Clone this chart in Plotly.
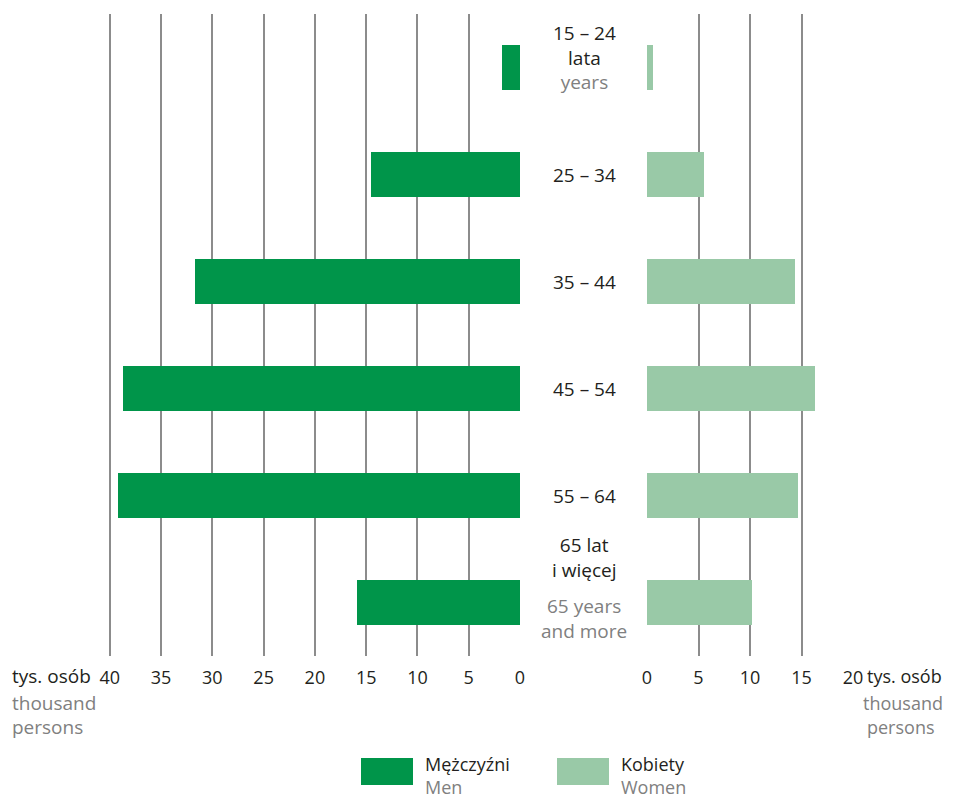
import plotly.graph_objects as go

# ── Data ────────────────────────────────────────────────────────────────────
age_groups = ["15 – 24", "25 – 34", "35 – 44", "45 – 54", "55 – 64", "65+"]
men = [1.8, 14.6, 31.7, 38.8, 39.2, 15.9]      # tys. osób
women = [0.6, 5.5, 14.4, 16.3, 14.7, 10.2]     # tys. osób
left_ticks = [40, 35, 30, 25, 20, 15, 10, 5, 0]
right_ticks = [0, 5, 10, 15, 20]

DARK = "#00954a"
LIGHT = "#99c9a7"
TXT = "#231f20"
GREY = "#808080"
FONT = "Open Sans"
FS = 19

OFF = 8                      # default page margin around the plot div
W, H = 955 - 2 * OFF, 797 - OFF
L, R, T, B = 0, 0, 6, 141
PW, PH = W - L - R, H - T - B


def px(x):
    """screen pixel x -> paper fraction"""
    return (x - OFF - L) / PW


def py(y):
    """screen pixel y -> paper fraction"""
    return 1 - (y - OFF - T) / PH


ypos = list(range(len(age_groups)))

fig = go.Figure()

fig.add_trace(go.Bar(
    x=men, y=ypos, orientation="h", width=0.42,
    marker=dict(color=DARK, line=dict(width=0)),
    xaxis="x", yaxis="y", showlegend=False,
))
fig.add_trace(go.Bar(
    x=women, y=ypos, orientation="h", width=0.42,
    marker=dict(color=LIGHT, line=dict(width=0)),
    xaxis="x2", yaxis="y", showlegend=False,
))

grid = dict(showgrid=True, gridcolor="#8c8c8c", gridwidth=1.5, zeroline=False,
            showline=False, ticks="outside", ticklen=5, tickcolor="rgba(0,0,0,0)",
            tickfont=dict(family=FONT, size=FS - 1, color=TXT), fixedrange=True,
            automargin=False)

# left axis runs one unit past 40 so the 40 grid line is not on the plot edge
fig.update_layout(
    width=W, height=H, autosize=False,
    margin=dict(l=L, r=R, t=T, b=B, pad=0),
    paper_bgcolor="white", plot_bgcolor="white",
    font=dict(family=FONT, color=TXT),
    xaxis=dict(domain=[px(99.55), px(520)], range=[41, 0], tickvals=left_ticks,
               anchor="y", **grid),
    xaxis2=dict(domain=[px(647), px(853)], range=[0, 20], tickvals=right_ticks,
                anchor="y", **grid),
    yaxis=dict(range=[5.5, -0.5], showgrid=False, zeroline=False, automargin=False,
               showticklabels=False, showline=False, fixedrange=True,
               anchor="free", position=0),
    bargap=0,
    showlegend=False,
)

# ── Category labels in the central gap ───────────────────────────────────────
cx = px(584)


def label(text, y, shift):
    fig.add_annotation(x=cx, xref="paper", y=y, yref="y", yshift=shift,
                       text=text, showarrow=False, align="center",
                       font=dict(family=FONT, size=FS, color=TXT))


label(f"15 – 24<br>lata<br><span style='color:{GREY}'>years</span>", 0, 10)
for i in range(1, 5):
    label(age_groups[i], i, 0)
label("65 lat<br>i więcej", 5, 45)
label(f"<span style='color:{GREY}'>65 years<br>and more</span>", 5, -16)


# ── Free text lines (unit labels, legend) ────────────────────────────────────
def text_line(x, y, s, color, anchor, size=FS):
    fig.add_annotation(x=px(x), xref="paper", y=py(y), yref="paper",
                       xanchor=anchor, yanchor="middle", showarrow=False,
                       text=s, font=dict(family=FONT, size=size, color=color))


text_line(10, 676, "tys. osób", TXT, "left")
text_line(10, 703, "thousand", GREY, "left")
text_line(10, 727, "persons", GREY, "left")
text_line(865, 676, "tys. osób", TXT, "left", FS - 1)
text_line(945, 703, "thousand", GREY, "right", FS - 1)
text_line(865, 727, "persons", GREY, "left", FS - 1)

for x0, col, pl, en in [(361, DARK, "Mężczyźni", "Men"),
                        (557, LIGHT, "Kobiety", "Women")]:
    fig.add_shape(type="rect", xref="paper", yref="paper",
                  x0=px(x0), x1=px(x0 + 52), y0=py(785), y1=py(758),
                  fillcolor=col, line=dict(width=0))
    fig.add_annotation(x=px(x0 + 62), xref="paper", y=py(775), yref="paper",
                       xanchor="left", yanchor="middle", align="left",
                       showarrow=False,
                       text=f"{pl}<br><span style='color:{GREY}'>{en}</span>",
                       font=dict(family=FONT, size=FS - 1, color=TXT))

fig.write_html("out.html")
